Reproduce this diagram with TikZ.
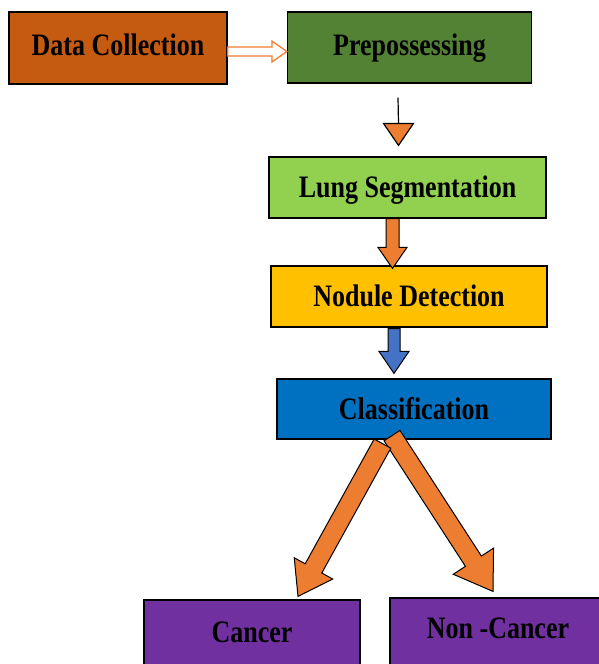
\documentclass[tikz,border=0pt]{standalone}
\usepackage{fontspec}
\setmainfont{Liberation Serif}
\usetikzlibrary{calc}
\definecolor{cDC}{HTML}{C55A11}
\definecolor{cPre}{HTML}{548235}
\definecolor{cLung}{HTML}{92D050}
\definecolor{cNod}{HTML}{FFC000}
\definecolor{cCls}{HTML}{0070C0}
\definecolor{cOut}{HTML}{7030A0}
\definecolor{cOrange}{HTML}{ED7D31}
\definecolor{cBlue}{HTML}{4472C4}
\newcommand\Tx[1]{\scalebox{1}[1.2]{#1}}
\newcommand\blockarr[6]{%
  \coordinate (ba-h) at ($(#2)!#5!(#1)$);
  \draw[#6] ($(#1)!#3!90:(#2)$) -- ($(ba-h)!#3!90:(#2)$) -- ($(ba-h)!#4!90:(#2)$)
    -- (#2) -- ($(ba-h)!#4!-90:(#2)$) -- ($(ba-h)!#3!-90:(#2)$) -- ($(#1)!#3!-90:(#2)$) -- cycle;
}
\begin{document}
\begin{tikzpicture}[x=1pt,y=-1pt,
  box/.style={draw=black,line width=1.2pt,inner sep=0pt,text=black,
    font=\fontsize{26}{30}\selectfont\bfseries,text height=20pt,text depth=0pt},
  barr/.style={draw=black,line width=1pt,line join=miter},
]
\useasboundingbox (0,0) rectangle (599,664);
\clip (0,0) rectangle (599,664);

\node[box,fill=cDC,minimum width=218pt,minimum height=72pt,text depth=5pt] (dc) at (118,48) {\Tx{Data Collection}};
\node[box,fill=cPre,minimum width=244pt,minimum height=71pt,text depth=5pt] (pre) at (409.5,47.5) {\Tx{Prepossessing}};
\node[box,fill=cLung,minimum width=277pt,minimum height=61pt] (lung) at (407.5,187.5) {\Tx{Lung Segmentation}};
\node[box,fill=cNod,minimum width=276pt,minimum height=61pt] (nod) at (409,296.5) {\Tx{Nodule Detection}};
\node[box,fill=cCls,minimum width=274pt,minimum height=60pt] (cls) at (414,409) {\Tx{Classification}};
\node[box,fill=cOut,minimum width=216pt,minimum height=70pt,text depth=5pt] (can) at (252,635) {\Tx{Cancer}};
\node[box,fill=cOut,minimum width=216pt,minimum height=70pt,text depth=9pt] (non) at (498,633) {\Tx{Non -Cancer}};

% hollow arrow Data Collection -> Prepossessing
\coordinate (a0s) at ($(dc.east)+(0,3.5)$);
\coordinate (a0t) at ($(pre.west)+(0,4)$);
\blockarr{a0s}{a0t}{4.5pt}{10.5pt}{15pt}{draw=cOrange,fill=white,line width=1.3pt}

% thin arrow Prepossessing -> Lung Segmentation
\coordinate (a1s) at ($(pre.south)+(-11.5,14)$);
\coordinate (a1m) at ($(lung.north)+(-9,-33)$);
\coordinate (a1t) at ($(lung.north)+(-9,-11)$);
\draw[line width=1.2pt] (a1s) -- (a1m);
\draw[fill=cOrange,line width=1.2pt,line join=miter] ($(a1m)+(-15,0)$) -- ($(a1m)+(15,0)$) -- (a1t) -- cycle;

% Lung -> Nodule
\coordinate (a2s) at ($(lung.south)+(-15,0)$);
\coordinate (a2t) at ($(nod.north)+(-16.5,3)$);
\blockarr{a2s}{a2t}{6.5pt}{14.5pt}{21pt}{barr,fill=cOrange}

% Nodule -> Classification
\coordinate (a3s) at ($(nod.south)+(-15,1)$);
\coordinate (a3t) at ($(cls.north)+(-20,-5)$);
\blockarr{a3s}{a3t}{6pt}{15pt}{22pt}{barr,fill=cBlue}

% Classification -> Non-Cancer
\coordinate (a4s) at ($(cls.south)+(-22,-4)$);
\coordinate (a4t) at ($(non.north)+(-5,-6)$);
\blockarr{a4s}{a4t}{9.5pt}{24pt}{36pt}{barr,fill=cOrange}

% Classification -> Cancer
\coordinate (a5s) at ($(cls.south)+(-31.5,4)$);
\coordinate (a5t) at ($(can.north)+(46,-3)$);
\blockarr{a5s}{a5t}{9.5pt}{22pt}{32pt}{barr,fill=cOrange}
\end{tikzpicture}
\end{document}
